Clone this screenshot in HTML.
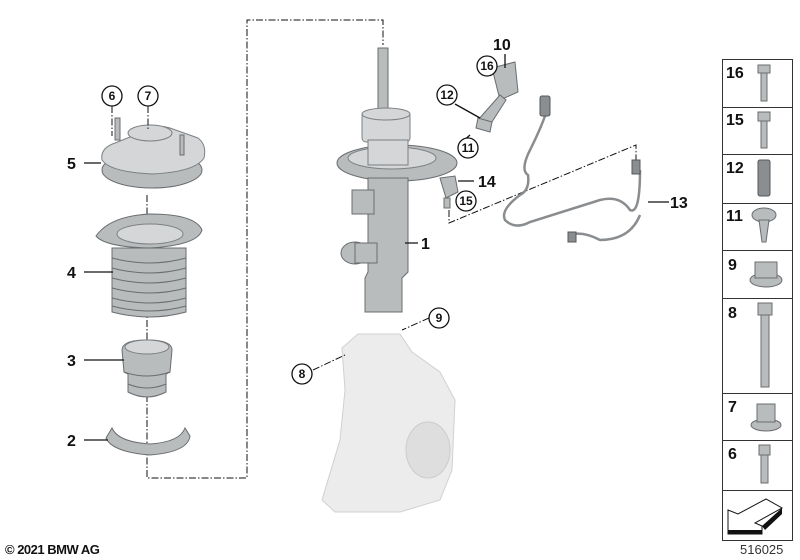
<!DOCTYPE html>
<html><head><meta charset="utf-8"><style>
html,body{margin:0;padding:0;background:#fff}
svg{display:block}
.b{font-family:"Liberation Sans",sans-serif;font-weight:bold;font-size:16px;fill:#111}
.c{font-family:"Liberation Sans",sans-serif;font-weight:bold;font-size:12px;fill:#111}
.l{stroke:#111;stroke-width:1.3;fill:none}
.d{stroke:#111;stroke-width:1;fill:none;stroke-dasharray:7 2 1.5 2}
.p{fill:#b9bcbd;stroke:#6a6d70;stroke-width:1}
.pl{fill:#d4d6d7;stroke:#7d8083;stroke-width:1}
.pd{fill:#8b8e91;stroke:#55585b;stroke-width:1}
.k{fill:#ececec;stroke:#d0d0d0;stroke-width:1}
</style></head><body>
<svg width="800" height="560" viewBox="0 0 800 560" xmlns="http://www.w3.org/2000/svg">
<path class="d" d="M147 195 V478 H247 V20 H383 V45"/>

<!-- Part 5 -->
<ellipse class="p" cx="152" cy="170" rx="50" ry="18"/>
<path class="pl" d="M102 160 Q100 148 115 143 L135 135 Q150 122 170 128 L198 138 Q207 145 204 158 Q195 172 152 174 Q110 172 102 160Z"/>
<ellipse class="pl" cx="150" cy="133" rx="22" ry="8"/>
<rect class="p" x="115" y="118" width="5" height="22"/>
<rect class="p" x="180" y="135" width="4" height="20"/>
<!-- Part 4 -->
<path class="p" d="M96 236 Q110 216 150 214 Q195 214 202 230 Q198 245 150 248 Q105 247 96 236Z"/>
<ellipse class="pl" cx="150" cy="234" rx="33" ry="10"/>
<path class="p" d="M112 248 L186 248 L186 312 Q150 322 112 312Z"/>
<g stroke="#6a6d70" stroke-width="1" fill="none">
<path d="M112 258 Q150 268 186 258"/><path d="M112 268 Q150 278 186 268"/><path d="M112 278 Q150 288 186 278"/><path d="M112 288 Q150 298 186 288"/><path d="M112 298 Q150 308 186 298"/><path d="M112 306 Q150 316 186 306"/>
</g>
<!-- Part 3 -->
<path class="p" d="M122 350 Q122 340 147 340 Q172 340 172 350 L170 372 L166 374 L166 392 Q147 402 128 392 L128 374 L124 372Z"/>
<ellipse class="pl" cx="147" cy="347" rx="22" ry="7"/>
<path d="M124 372 Q147 380 170 372 M128 384 Q147 392 166 384" stroke="#6a6d70" fill="none"/>
<!-- Part 2 -->
<path class="p" d="M106 438 L112 428 Q118 442 150 444 Q180 442 185 428 L190 436 Q188 452 150 455 Q112 452 106 438Z"/>

<!-- Strut -->
<rect class="p" x="378" y="48" width="10" height="70"/>
<rect class="pl" x="362" y="112" width="48" height="30" rx="4"/>
<ellipse class="pl" cx="386" cy="114" rx="24" ry="6"/>
<ellipse class="p" cx="397" cy="163" rx="60" ry="18"/>
<ellipse class="pl" cx="392" cy="158" rx="44" ry="11"/>
<rect class="pl" x="368" y="140" width="40" height="25"/>
<path class="p" d="M368 178 L408 178 L408 272 L402 278 L402 312 L365 312 L365 278 L368 272Z"/>
<rect class="p" x="352" y="190" width="22" height="24"/>
<ellipse class="p" cx="355" cy="253" rx="14" ry="11"/>
<rect class="p" x="355" y="243" width="22" height="20"/>
<!-- Knuckle -->
<path class="k" d="M342 348 L358 334 L400 334 L412 352 L440 372 L455 400 L452 470 L440 500 L400 512 L335 512 L322 500 L340 440 L345 390 Z"/>
<ellipse cx="428" cy="450" rx="22" ry="28" fill="#dedede" stroke="#ccc"/>
<!-- Bracket 10/12 -->
<path class="p" d="M492 68 L515 62 L518 92 L500 100 Z"/>
<path class="p" d="M478 120 L500 95 L506 100 L490 125 Z"/>
<path class="p" d="M478 118 L492 122 L490 132 L476 128 Z"/>
<!-- Sensor 14/15 -->
<path class="p" d="M440 178 L455 176 L458 192 L446 198 Z"/>
<rect class="p" x="444" y="198" width="6" height="10"/>
<path class="d" d="M449 210 V223 L636 145 V160"/>
<!-- Cable 13 -->
<path d="M545 116 Q540 130 530 150 Q520 170 528 175 Q530 190 520 195 Q500 210 505 220 Q515 230 530 222 L600 200 Q620 195 630 210 Q640 215 640 170" stroke="#8a8d90" stroke-width="2.5" fill="none"/>
<path d="M640 215 Q630 240 600 240 Q585 232 573 234" stroke="#8a8d90" stroke-width="2.5" fill="none"/>
<rect class="pd" x="540" y="96" width="10" height="20" rx="2"/>
<rect class="pd" x="632" y="160" width="8" height="14"/>
<rect class="pd" x="568" y="232" width="8" height="10"/>

<path class="l" d="M84 163 H101 M84 272 H113 M84 360 H124 M84 440 H108 M418 243 H405 M669 202 H648 M474 181 H458 M505 54 V68 M455 104 L480 118 M470 135 L462 142"/>
<path class="d" d="M112 106 V136 M148 106 V131 M429 318 L402 330 M313 370 L345 355"/>

<text class="b" x="67" y="169">5</text>
<text class="b" x="67" y="278">4</text>
<text class="b" x="67" y="366">3</text>
<text class="b" x="67" y="446">2</text>
<text class="b" x="421" y="249">1</text>
<text class="b" x="493" y="50">10</text>
<text class="b" x="478" y="187">14</text>
<text class="b" x="670" y="208">13</text>
<g fill="#fff" stroke="#111" stroke-width="1.3">
<circle cx="112" cy="96" r="10"/><circle cx="148" cy="96" r="10"/>
<circle cx="487" cy="66" r="10"/><circle cx="447" cy="95" r="10"/>
<circle cx="468" cy="148" r="10"/><circle cx="466" cy="201" r="10"/>
<circle cx="439" cy="318" r="10"/><circle cx="302" cy="374" r="10"/>
</g>
<g class="c" text-anchor="middle">
<text x="112" y="100">6</text><text x="148" y="100">7</text>
<text x="487" y="70">16</text><text x="447" y="99">12</text>
<text x="468" y="152">11</text><text x="466" y="205">15</text>
<text x="439" y="322">9</text><text x="302" y="378">8</text>
</g>

<g fill="none" stroke="#333" stroke-width="1">
<rect x="722.5" y="59.5" width="70" height="481"/>
<path d="M722 107.5H793M722 154.5H793M722 203.5H793M722 250.5H793M722 298.5H793M722 393.5H793M722 440.5H793M722 490.5H793"/>
</g>
<g class="b">
<text x="726" y="78">16</text><text x="726" y="125">15</text><text x="726" y="173">12</text>
<text x="726" y="221">11</text><text x="728" y="270">9</text><text x="728" y="318">8</text>
<text x="728" y="412">7</text><text x="728" y="459">6</text>
</g>
<g class="p">
<rect x="758" y="65" width="12" height="8"/><rect x="761" y="73" width="6" height="28"/>
<rect x="758" y="112" width="12" height="9"/><rect x="761" y="121" width="6" height="27"/>
<rect x="758" y="160" width="12" height="36" rx="2" class="pd"/>
<ellipse cx="764" cy="215" rx="12" ry="7"/><path d="M759 220 L769 220 L766 242 L762 242Z"/>
<ellipse cx="766" cy="280" rx="16" ry="7"/><rect x="755" y="262" width="22" height="16"/>
<rect x="758" y="303" width="14" height="12"/><rect x="761" y="315" width="8" height="72"/>
<ellipse cx="766" cy="425" rx="15" ry="6"/><rect x="757" y="404" width="18" height="18"/>
<rect x="759" y="445" width="11" height="10"/><rect x="761" y="455" width="7" height="28"/>
</g>
<path d="M728 534 L728 510 L738 514 L766 499 L782 508 L755 523 L762 526 L762 534Z" fill="#fff" stroke="#111"/>
<path d="M728 530 H762 V534 H728Z M762 526 L782 508 V514 L765 530Z" fill="#111"/>
<text x="740" y="554" font-family="Liberation Sans,sans-serif" font-size="13" fill="#333">516025</text>
<text x="5" y="554" font-family="Liberation Sans,sans-serif" font-size="13" font-weight="bold" fill="#111" letter-spacing="-0.5">© 2021 BMW AG</text>
</svg>
</body></html>
